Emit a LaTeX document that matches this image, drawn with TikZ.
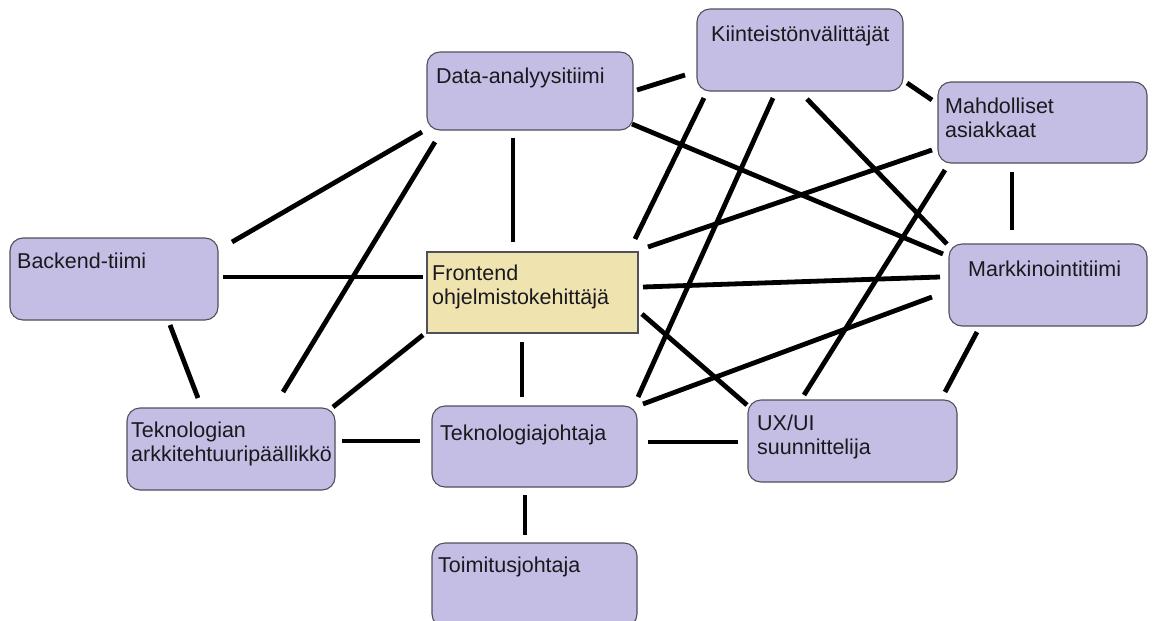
\documentclass[tikz,border=0pt]{standalone}
\usepackage{fontspec}
\setmainfont{Liberation Sans}
\definecolor{boxfill}{RGB}{197,190,228}
\definecolor{frontfill}{RGB}{239,227,176}
\definecolor{boxline}{RGB}{80,80,90}
\definecolor{txtcol}{RGB}{25,25,30}
\begin{document}
\begin{tikzpicture}[x=1pt,y=-1pt,
  box/.style={draw=boxline, line width=1.1pt, fill=boxfill, rounded corners=13pt, anchor=north west, inner sep=0pt, outer sep=0pt},
  tanbox/.style={draw=boxline, line width=1.1pt, fill=frontfill, anchor=north west, inner sep=0pt, outer sep=0pt},
  txt/.style={anchor=base west, align=left, inner sep=0pt, text=txtcol, font=\fontsize{21.5}{24.5}\selectfont},
  conn/.style={line width=4.8pt, black}]
\fill[white] (0,0) rectangle (1157,621);
\useasboundingbox (0,0) rectangle (1157,621);
\clip (0,0) rectangle (1157,621);

% boxes
\node[box, minimum width=206pt, minimum height=82pt] (kiint) at (697,9) {};
\node[box, minimum width=206pt, minimum height=78pt] (data) at (427,52) {};
\node[box, minimum width=209pt, minimum height=81pt] (mahd) at (938,82) {};
\node[box, minimum width=208pt, minimum height=82pt] (back) at (10,238) {};
\node[tanbox, minimum width=211pt, minimum height=81pt] (front) at (427,252) {};
\node[box, minimum width=198pt, minimum height=82pt] (markk) at (949,244) {};
\node[box, minimum width=208pt, minimum height=82pt] (tekark) at (127,408) {};
\node[box, minimum width=205pt, minimum height=81pt] (tekjoh) at (432,406) {};
\node[box, minimum width=209pt, minimum height=82pt] (ux) at (748,400) {};
\node[box, minimum width=205pt, minimum height=84pt] (toim) at (432,543) {};

% texts (anchor = baseline of the last line)
\node[txt] (kiint-t) at ([shift={(14,32)}]kiint.north west) {Kiinteistönvälittäjät};
\node[txt] (data-t) at ([shift={(9,31)}]data.north west) {Data-analyysitiimi};
\node[txt] (mahd-t) at ([shift={(7,55.5)}]mahd.north west) {Mahdolliset\\asiakkaat};
\node[txt] (back-t) at ([shift={(7,30)}]back.north west) {Backend-tiimi};
\node[txt] (front-t) at ([shift={(5,52.5)}]front.north west) {Frontend\\ohjelmistokehittäjä};
\node[txt] (markk-t) at ([shift={(19,32)}]markk.north west) {Markkinointitiimi};
\node[txt] (tekark-t) at ([shift={(4,53.5)}]tekark.north west) {Teknologian\\arkkitehtuuripäällikkö};
\node[txt] (tekjoh-t) at ([shift={(8,34)}]tekjoh.north west) {Teknologiajohtaja};
\node[txt] (ux-t) at ([shift={(9,54.5)}]ux.north west) {UX/UI\\suunnittelija};
\node[txt] (toim-t) at ([shift={(6,29)}]toim.north west) {Toimitusjohtaja};

% connectors
\draw[conn] ([shift={(210,38)}]data.north west) -- ([shift={(-12,66)}]kiint.north west);
\draw[conn] ([shift={(86,86)}]data.north west) -- ([shift={(86,-10)}]front.north west);
\draw[conn] ([shift={(205,72)}]data.north west) -- ([shift={(-6,10)}]markk.north west);
\draw[conn] ([shift={(-5,80)}]data.north west) -- ([shift={(222,4)}]back.north west);
\draw[conn] ([shift={(8,90)}]data.north west) -- ([shift={(156,-16)}]tekark.north west);
\draw[conn] ([shift={(213,39)}]back.north west) -- ([shift={(-4,25)}]front.north west);
\draw[conn] ([shift={(160,87)}]back.north west) -- ([shift={(71,-10)}]tekark.north west);
\draw[conn] ([shift={(-4,83)}]front.north west) -- ([shift={(206,-1)}]tekark.north west);
\draw[conn] ([shift={(215,33)}]tekark.north west) -- ([shift={(-12,35)}]tekjoh.north west);
\draw[conn] ([shift={(95,90)}]front.north west) -- ([shift={(90,-9)}]tekjoh.north west);
\draw[conn] ([shift={(93,89)}]tekjoh.north west) -- ([shift={(93,-8)}]toim.north west);
\draw[conn] ([shift={(216,36)}]tekjoh.north west) -- ([shift={(-10,42)}]ux.north west);
\draw[conn] ([shift={(215,62)}]front.north west) -- ([shift={(-1,5)}]ux.north west);
\draw[conn] ([shift={(216,35)}]front.north west) -- ([shift={(-9,33)}]markk.north west);
\draw[conn] ([shift={(208,-13)}]front.north west) -- ([shift={(7,89)}]kiint.north west);
\draw[conn] ([shift={(221,-5)}]front.north west) -- ([shift={(-6,68)}]mahd.north west);
\draw[conn] ([shift={(76,89)}]kiint.north west) -- ([shift={(206,-9)}]tekjoh.north west);
\draw[conn] ([shift={(110,90)}]kiint.north west) -- ([shift={(-2,0)}]markk.north west);
\draw[conn] ([shift={(210,74)}]kiint.north west) -- ([shift={(-6,18)}]mahd.north west);
\draw[conn] ([shift={(7,88)}]mahd.north west) -- ([shift={(56,-5)}]ux.north west);
\draw[conn] ([shift={(74,90)}]mahd.north west) -- ([shift={(63,-14)}]markk.north west);
\draw[conn] ([shift={(-17,53)}]markk.north west) -- ([shift={(211,-2)}]tekjoh.north west);
\draw[conn] ([shift={(28,88)}]markk.north west) -- ([shift={(197,-8)}]ux.north west);
\end{tikzpicture}
\end{document}
